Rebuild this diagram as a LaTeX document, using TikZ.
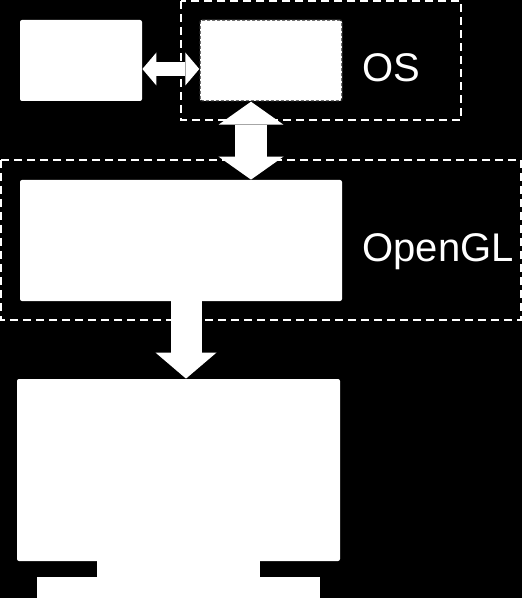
\documentclass[tikz,border=0pt]{standalone}
\usepackage{fontspec}
\setmainfont{Liberation Sans}
\usetikzlibrary{arrows.meta, positioning}

\begin{document}
\begin{tikzpicture}[
  x=0.5pt, y=-0.5pt,
  box/.style={fill=white, draw=none, rounded corners=1pt, inner sep=0pt},
  group/.style={draw=white, dash pattern=on 4pt off 2.5pt, line width=0.6pt},
  layer/.style={text=white, font=\fontsize{20}{24}\selectfont, inner sep=0pt},
  link/.style={draw=white, line width=7pt,
    {Triangle[width=16.5pt, length=7pt, line width=0pt 0 0]}-{Triangle[width=16.5pt, length=7pt, line width=0pt 0 0]}},
  bus/.style={draw=white, line width=16pt,
    {Triangle[width=32.5pt, length=11.5pt, line width=0pt 0 0]}-{Triangle[width=32.5pt, length=11.5pt, line width=0pt 0 0]}},
  feed/.style={draw=white, line width=15.5pt,
    -{Triangle[width=30.5pt, length=13pt, line width=0pt 0 0]}}
]
\useasboundingbox (0,0) rectangle (522,598);
\fill[black] (0,0) rectangle (522,598);

% dashed layers
\draw[group] (181,1) rectangle (461,120);
\draw[group] (1,160) rectangle (521,320);
\node[layer, anchor=base west] (oslabel) at (362,82) {OS};
\node[layer, anchor=base west] (gllabel) at (362,262) {OpenGL};

% boxes
\node[box, minimum width=61pt, minimum height=40.5pt] (app) at (81,60.5) {};
\node[box, minimum width=71pt, minimum height=40.5pt, draw=black!85,
  line width=0.7pt, dash pattern=on 1.5pt off 1pt] (win) at (271,60.5) {};
\node[box, minimum width=161pt, minimum height=60.5pt] (gl) at (181,240.5) {};

% monitor
\node[box, minimum width=161.5pt, minimum height=91pt] (screen) at (178.5,470) {};
\node[box, rounded corners=0pt, minimum width=81.5pt, minimum height=9pt, below=-1pt of screen] (neck) {};
\node[box, rounded corners=0pt, minimum width=141.5pt, minimum height=16pt, below=-1pt of neck] (stand) {};

% connectors
\draw[link] ([yshift=-4.25pt]app.east) -- ([yshift=-4.25pt]win.west);
\draw[bus] ([xshift=-10pt]win.south) -- ([xshift=-10pt]win.south |- gl.north);
\draw[feed] ([xshift=2.5pt]gl.south) -- ([xshift=2.5pt]gl.south |- screen.north);
\end{tikzpicture}
\end{document}
